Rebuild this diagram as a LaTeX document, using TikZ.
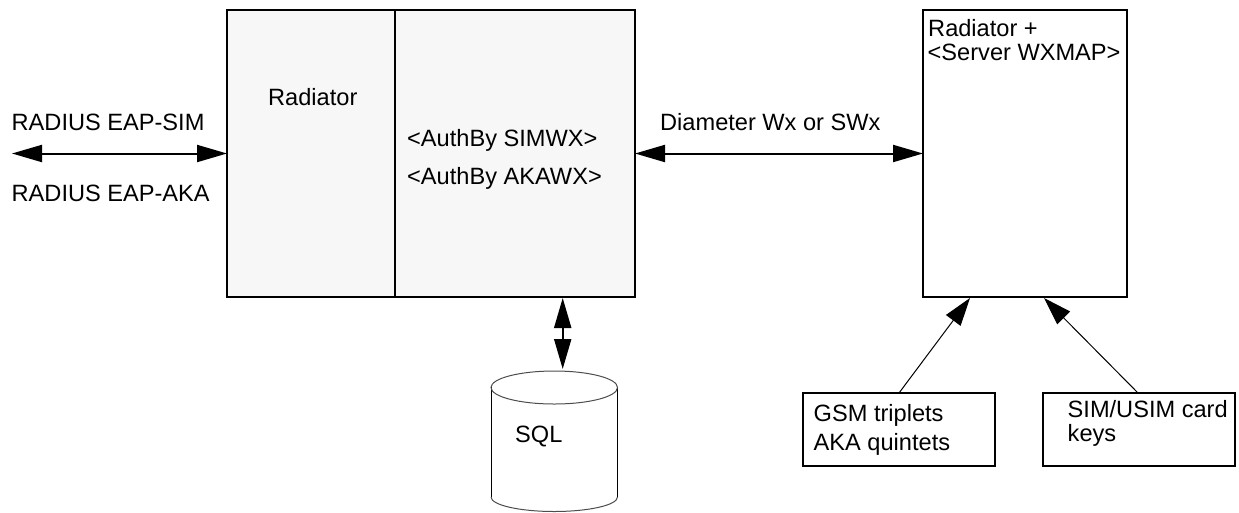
\documentclass[tikz,border=0pt]{standalone}
\usepackage{fontspec}
\setmainfont{Liberation Sans}
\usetikzlibrary{arrows.meta}
\definecolor{panel}{HTML}{F7F7F7}
\tikzset{
  x=1pt,y=-1pt,
  lab/.style={inner sep=0pt,anchor=base west,font=\fontsize{23.6}{27}\selectfont,align=left},
  box/.style={draw=black,line width=2pt,inner sep=0pt,anchor=north west,outer sep=0pt},
  link/.style={draw=black,line width=2pt,{Triangle[length=30pt,width=17pt]}-{Triangle[length=30pt,width=17pt]}},
  feed/.style={draw=black,line width=1pt,-{Triangle[length=28pt,width=18pt]}},
  cyl/.style={draw=black,line width=1pt},
  cylrim/.style={draw=black!70,line width=1pt}
}
\begin{document}
\begin{tikzpicture}
\useasboundingbox (0,0) rectangle (1239,512);
% boxes
\node[box,fill=panel,minimum width=408pt,minimum height=287pt] (main) at (227,10) {};
\draw[line width=2pt] (395,10) coordinate (divtop) -- (395,297) coordinate (divbot);
\node[box,fill=white,minimum width=204pt,minimum height=287pt] (map) at (923,10) {};
\node[box,minimum width=192pt,minimum height=73pt] (gsm) at (803,393) {};
\node[box,minimum width=192pt,minimum height=73pt] (sim) at (1043,393) {};
% cylinder
\draw[cyl] (491,387) -- (491,497);
\draw[cyl] (617.5,387) -- (617.5,497);
\draw[cylrim] (491,497) arc[start angle=180,end angle=360,x radius=63.25,y radius=-14.5];
\draw[cylrim] (554.25,387.5) ellipse[x radius=63.25,y radius=16.5];
% free ends and attachment points
\coordinate (ext) at (12,153.5);
\coordinate (mainS) at (562.7,298);
\coordinate (sqlT) at (562.7,369);
\coordinate (mapA) at (970,298);
\coordinate (gsmT) at (899,393);
\coordinate (mapB) at (1044,298);
\coordinate (simT) at (1138,393);
% connectors
\draw[link] (ext) -- (main.west);
\draw[link] (main.east) -- (map.west);
\draw[link] (mainS) -- (sqlT);
\draw[feed] (gsmT) -- (mapA);
\draw[feed] (simT) -- (mapB);
% text
\node[lab] (t1) at (11.5,130) {RADIUS EAP-SIM};
\node[lab] (t2) at (11.5,201) {RADIUS EAP-AKA};
\node[lab] (t3) at (268,105) {Radiator};
\node[lab] (t4) at (407,146.5) {<AuthBy SIMWX>};
\node[lab] (t5) at (407,184.5) {<AuthBy AKAWX>};
\node[lab] (t6) at (660,130.5) {Diameter Wx or SWx};
\node[lab] (t7) at (928,36) {Radiator +};
\node[lab] (t8) at (927.5,60) {<Server WXMAP>};
\node[lab] (t9) at (515,442) {SQL};
\node[lab] (t10) at (813.5,421.5) {GSM triplets};
\node[lab] (t11) at (813.5,450.5) {AKA quintets};
\node[lab] (t12) at (1067.5,417.5) {SIM/USIM card};
\node[lab] (t13) at (1067.5,441.5) {keys};
\end{tikzpicture}
\end{document}
